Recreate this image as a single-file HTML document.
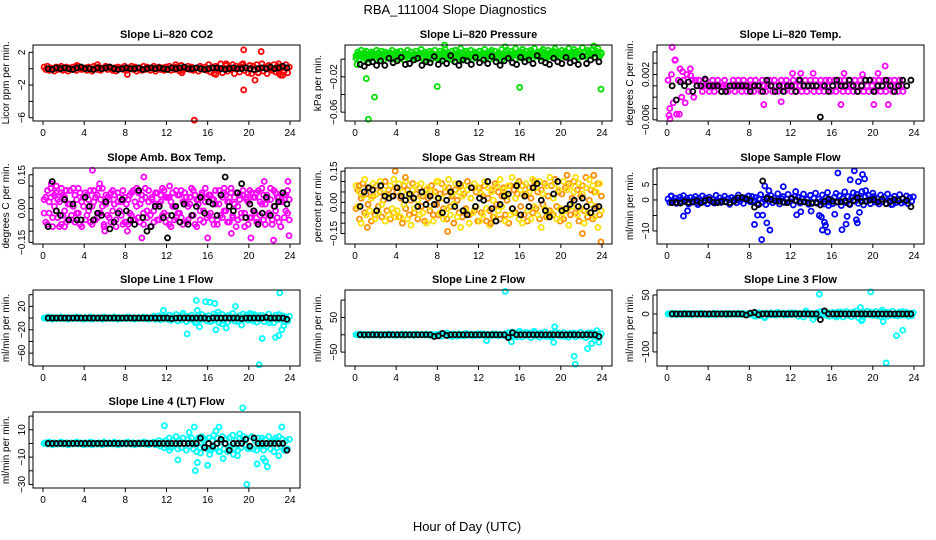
<!DOCTYPE html>
<html><head><meta charset="utf-8">
<style>
html,body{margin:0;padding:0;background:#fff;}
svg{display:block;font-family:"Liberation Sans",Arial,sans-serif;}
</style></head>
<body>
<svg id="chart" width="936" height="540" viewBox="0 0 936 540" xmlns="http://www.w3.org/2000/svg">
<text x="455" y="14" font-size="13" text-anchor="middle">RBA_111004  Slope Diagnostics</text>
<text x="467" y="531" font-size="13" text-anchor="middle">Hour of Day (UTC)</text>
</svg>
<script>
// ---- data: time grids (hours) ----
const baseHourStart = 0.1, baseHourStep = 1/6;
const blackHourStart = 0.5, blackHourStep = 0.4;
const xTicks = [0,4,8,12,16,20,24];

// P1 CO2
const co2Base = [.2,-.1,.3,-.2,.1,0,-.3,.2,-.1,.1,.3,-.2,0,.2,-.3,.1,-.1,.2,0,-.2,.3,.1,-.1,0,
.1,-.2,.2,0,-.3,.3,.1,-.1,.2,-.2,0,.1,.3,-.1,.2,0,-.2,.1,-.3,.2,0,.1,-.1,.3,
-.2,.1,0,.3,-.1,.2,-.3,0,.1,-.2,.3,-.1,.2,0,-.2,.1,.3,-.3,0,.2,-.1,.1,-.2,.2,
0,.3,-.2,.1,-.1,.2,0,-.3,.4,-.2,.1,0,.3,-.1,.2,-.2,0,.1,-.3,.3,.1,-.1,.2,-.2,
.5,-.4,.2,-.6,.3,0,-.2,.6,-.5,.1,.4,-.3,.2,-.1,.5,-.6,.3,0,-.4,.2,.6,-.2,.1,-.5,
.4,-.6,.3,-.2,.5,-.5,.1,.6,-.3,.2,-.6,.4,0,-.2,.5,-.4,.3,-.6,.2,.1,-.3,.5,-.5,.2];
const co2Black = [0,-.1,.1,0,.1,0,-.1,.1,.2,0,0,-.1,.1,0,.1,.2,0,-.1,0,.1,0,0,.1,-.1,0,.1,0,.1,0,-.1,.1,0,.1,.2,0,0,.1,0,-.1,0,.1,.1,0,-.1,0,.1,0,0,.1,0,-.1,0,.1,0,.2,0,.1,.3,.1];
const co2OutX = [14.7,19.5,19.5,21.2,20.6,17.8,22.9,16.8,20.9,23.3,23.1,19.3,8.2,13.5,12.9,5.3,3.3];
const co2OutY = [-6.3,2.3,-2.6,2.1,-1.4,.6,.6,-.7,-.5,-.8,-.8,.5,-.7,-.5,.5,.5,.4];

// P2 Pressure
const presBase = [.004,.008,.006,.01,.003,.007,.009,.005,.002,.008,.006,.004,.01,.007,.003,.009,.005,.008,.006,.002,.007,.01,.004,.006,
.008,.005,.009,.003,.007,.006,.01,.004,.008,.002,.006,.009,.005,.007,.011,.003,.008,.006,.004,.009,.007,.005,.01,.003,
.006,.009,.004,.008,.011,.005,.007,.003,.009,.006,.01,.004,.008,.012,.005,.007,.009,.003,.006,.01,.004,.008,.007,.005,
.009,.004,.007,.011,.006,.003,.008,.01,.005,.009,.002,.007,.006,.011,.004,.008,.01,.005,.003,.009,.007,.012,.006,.004,
.008,.011,.005,.009,.003,.007,.01,.006,.012,.004,.008,.005,.009,.011,.006,.003,.01,.007,.004,.009,.012,.005,.008,.006,
.01,.006,.009,.004,.012,.007,.005,.011,.008,.003,.009,.006,.013,.007,.004,.01,.008,.005,.011,.006,.009,.012,.004,.007];
const presBase2 = [.001,.005,0,.003,.006,.002,-.001,.004,.006,.001,.003,.005,0,.002,.006,.004,-.001,.003,.005,.001,.004,0,.006,.002,
.003,0,.005,.002,-.001,.004,.006,.001,.003,.005,.002,0,.004,.006,.001,.003,-.001,.005,.002,.004,0,.006,.003,.001,
.005,.002,.004,0,.006,.003,.001,.005,-.001,.004,.002,.006,.003,0,.005,.001,.004,.006,.002,.003,0,.005,.004,.001,
.002,.006,.001,.004,.003,.005,0,.006,.002,.004,.001,.005,.003,-.001,.006,.002,.004,.001,.005,.003,.006,0,.004,.002,
.004,.001,.006,.003,.005,.002,.007,.001,.004,.006,.003,.005,.002,.007,.004,.001,.006,.003,.005,.002,.007,.004,.006,.003,
.005,.003,.007,.002,.006,.004,.008,.003,.005,.007,.002,.006,.004,.008,.003,.005,.007,.004,.006,.002,.008,.005,.003,.006];
const presBlack = [-.006,-.008,-.004,-.003,-.007,-.002,-.007,.001,-.004,-.002,.002,-.006,-.005,-.001,.001,-.007,-.003,-.004,.003,-.006,-.002,-.005,.004,-.003,-.007,-.001,-.002,-.006,.002,-.004,-.001,-.005,.003,-.003,-.007,-.002,.001,-.004,-.006,.002,-.003,-.001,-.005,.004,-.002,-.004,-.006,.001,-.003,-.005,.002,-.004,-.002,-.006,.003,-.005,-.001,.002,-.003];
const presOutX = [1.1,1.9,1.3,8,16,23.9,.2,8.7,23.2,14.6];
const presOutY = [-.022,-.043,-.068,-.031,-.032,-.034,-.006,.016,.015,.014];

// P3 Li-820 Temp
const tempBase = [.001,-.004,.002,-.003,.0045,-.005,.001,.003,-.002,.001,-.003,.002,-.001,.003,.001,-.002,.001,0,
.001,0,-.001,0,.001,0,-.001,0,.001,-.001,0,.001,0,-.001,0,.001,0,-.001,0,0,.001,-.001,0,.001,
0,-.001,.001,0,-.001,0,.001,0,-.001,.001,0,0,-.001,.001,0,-.001,0,.001,0,-.001,.001,0,-.001,0,
.001,0,-.001,.001,0,0,-.001,.001,0,-.001,.001,0,-.001,0,.001,-.001,0,.001,0,-.001,.001,0,-.001,.001,
0,-.001,.001,0,.001,-.001,0,.001,-.001,0,.001,0,-.001,.001,0,-.001,.001,0,-.001,.001,0,-.001,.001,0,
-.001,.001,0,-.001,.001,0,.001,-.001,0,.001,-.001,0,.001,-.001,0,.001,0,-.001,.001,0,-.001,.001,0,-.001];
const tempBlack = [0,-.0025,.0007,0,.0007,-.001,0,0,.0012,0,0,0,-.001,-.001,0,0,0,0,0,-.001,0,0,-.001,.001,0,-.001,0,-.001,0,0,-.001,.001,0,0,0,0,-.0055,0,-.001,0,.001,0,0,.001,0,-.001,0,.001,.001,-.001,0,0,.001,0,-.001,0,.001,0,.001];
const tempOutX = [.5,.8,.3,.2,1.2,1.5,2.3,9.4,11.1,16.9,21.2,21.5,20.1,14.2,13,12.2,19,17.2,20.5];
const tempOutY = [.0068,.0046,-.0058,-.0052,-.005,.0025,.0018,-.0033,-.0028,-.0033,.0035,-.0033,-.0033,.0022,.0022,.0022,.002,.0022,.0022];

// P4 Amb box temp
const ambBase = [.04,-.06,.08,-.02,.05,-.08,.01,.07,-.04,.03,-.07,.06,-.01,.08,-.05,.02,-.03,.09,-.06,.04,-.02,.07,-.08,.01,
-.05,.06,-.01,.08,-.07,.03,.05,-.04,.09,-.02,.01,-.08,.06,-.03,.04,-.06,.08,.02,-.05,.07,-.01,.03,-.07,.05,
.02,-.07,.06,-.03,.08,-.05,.01,.07,-.06,.04,-.02,.09,-.04,.03,-.08,.05,-.01,.07,-.05,.02,.06,-.03,.08,-.06,
-.03,.05,-.08,.07,.01,-.04,.06,-.02,.08,-.07,.03,.05,-.05,.02,.09,-.03,.06,-.08,.04,-.01,.07,-.06,.03,.05,
.06,-.02,.04,-.07,.08,-.05,.02,.06,-.04,.09,-.01,.03,-.06,.07,-.03,.05,-.08,.01,.06,-.04,.08,-.02,.04,-.07,
-.04,.07,-.01,.05,-.06,.08,-.03,.02,.06,-.07,.04,-.02,.09,-.05,.01,.07,-.04,.05,-.08,.03,.06,-.01,.08,-.05];
const ambBase2 = [-.02,.05,-.07,.03,.09,-.04,.06,-.01,.04,-.08,.07,-.03,.05,-.06,.02,.08,-.05,.01,.06,-.02,.09,-.07,.03,.05,
.07,-.03,.04,-.06,.01,.08,-.05,.06,-.02,.04,.09,-.07,.02,.05,-.04,.07,-.01,.06,-.08,.03,.05,-.03,.08,-.06,
-.06,.04,-.02,.07,-.05,.03,.09,-.04,.02,.06,-.07,.05,-.01,.08,-.03,.04,-.06,.02,.07,-.05,.03,.09,-.02,.05,
.05,-.07,.03,.01,-.05,.08,-.02,.06,-.04,.03,.07,-.06,.01,.05,-.03,.08,-.07,.04,.02,-.05,.06,-.01,.09,-.04,
-.03,.06,-.05,.04,.02,-.07,.08,-.03,.05,-.01,.06,-.06,.03,.09,-.04,.02,.07,-.05,.04,-.02,.06,-.08,.05,.03,
.08,-.04,.05,-.02,.07,-.06,.03,.09,-.05,.02,.06,-.03,.04,-.07,.08,-.01,.05,-.06,.03,.07,-.04,.06,-.02,.04];
const ambBlack = [-.08,.12,-.01,-.03,.04,-.05,.02,-.05,-.05,.05,.01,-.05,-.02,-.03,.03,-.09,-.06,-.02,.04,-.01,-.05,-.07,.08,-.04,-.1,-.08,.01,.01,-.04,-.13,-.03,.01,-.06,.02,-.07,-.03,.01,.05,-.02,.03,.02,-.03,.06,.14,.01,-.01,.07,.11,-.04,.02,-.01,-.07,-.02,.05,-.03,.01,.03,.07,.02];
const ambOutX = [4.8,9.8,.8,1.3,6,9.6,21.5,23.8,23.9,22.4,20.2,16,18.3,2.1,12.3,17.6,5.5,8.2,1.8];
const ambOutY = [.17,.14,.11,.1,-.1,-.13,.12,.12,-.12,-.14,-.13,-.13,-.11,-.08,.1,.07,.11,-.1,.09];

// P5 Gas stream RH
const rhBase = [-.03,.06,-.08,.02,.09,-.05,.04,-.01,.07,-.09,.03,-.06,.08,-.02,.05,-.07,.01,.1,-.04,.06,-.08,.03,-.05,.07,
.05,-.07,.02,-.1,.08,-.03,.06,-.06,.01,.09,-.05,.04,-.08,.07,-.02,.03,-.09,.06,.02,-.04,.08,-.06,.05,-.01,
-.06,.04,.09,-.03,.05,-.08,.07,-.02,.03,-.1,.06,.01,-.05,.08,-.07,.04,-.03,.1,-.06,.02,.07,-.04,.05,-.09,
.07,-.05,.03,.08,-.09,.02,-.04,.06,-.07,.09,-.01,.05,-.08,.03,.07,-.06,.01,-.1,.08,-.03,.06,-.05,.04,.1,
-.02,.08,-.06,.04,-.09,.07,.02,-.05,.1,-.03,.05,-.08,.06,-.01,.09,-.07,.03,-.04,.08,-.06,.11,-.02,.05,-.09,
.04,-.08,.07,-.03,.09,-.06,.02,.1,-.05,.06,-.09,.03,.08,-.04,.12,-.07,.01,.06,-.08,.05,-.02,.09,-.06,.03];
const rhBase2 = [.08,-.02,.05,-.1,.03,.11,-.06,.07,-.04,.02,.09,-.08,.04,-.05,.1,-.01,.06,-.09,.03,-.06,.08,-.03,.11,-.07,
-.04,.09,-.07,.05,-.01,.1,-.08,.03,-.11,.06,-.03,.08,.01,-.06,.09,-.05,.04,-.1,.07,-.02,.05,-.09,.03,.1,
.1,-.05,.02,-.08,.07,-.03,.11,-.06,.04,-.01,.09,-.07,.05,-.12,.03,.08,-.04,.06,-.1,.02,-.05,.09,-.02,.07,
-.09,.04,-.06,.1,-.03,.07,-.11,.05,.01,-.07,.08,-.04,.11,-.02,.06,-.09,.03,.08,-.06,.12,-.05,.02,.09,-.08,
.06,-.1,.03,.09,-.04,.05,-.08,.11,-.02,.07,-.06,.1,-.12,.04,-.03,.08,-.07,.12,-.05,.02,.09,-.08,.06,-.03,
-.07,.1,-.04,.06,-.11,.08,-.02,.05,.12,-.06,.09,-.03,.04,-.1,.07,-.05,.11,-.01,.08,-.07,.05,-.12,.09,-.04];
const rhBlack = [-.02,.05,.07,.06,-.04,.08,.03,.02,.03,.07,.03,.01,.04,.02,-.02,.05,-.01,.03,-.01,.02,-.05,.01,.05,-.02,.09,-.04,-.06,.07,-.02,.02,.01,.1,-.03,-.09,-.01,.03,.04,-.03,.08,-.06,.03,-.02,.07,.09,.01,-.04,-.07,.04,.1,-.04,-.03,-.01,.01,-.02,.02,-.02,-.05,-.03,-.02];
const rhOutX = [3.9,23.9,.4,4.9,9,13.2,20.6,22.1,23.2,1.2];
const rhOutY = [.15,-.19,.08,.12,-.14,-.1,.13,-.15,.13,-.12];

// P6 Sample flow
const flowBase = [.3,-.8,1.2,-.4,.6,-1.1,.1,.9,-.6,1.4,-.2,.5,-1.3,.8,-.5,.2,1.1,-.9,.4,-.3,1.3,-.7,.6,-1.2,
.9,-.5,.2,-1,1.5,-.3,.7,-.8,.1,1.2,-.6,.4,-1.4,.8,-.2,.5,-.9,1.6,-.4,.3,-1.1,.7,-.1,1.3,
-.6,1.1,-.3,.8,-1.2,.4,1.7,-.7,.2,-1.5,.9,-.4,1.4,-.9,.6,-.2,2,-1.3,.5,1.1,-.8,.3,1.8,-.5,
.7,-1.6,1.2,-.3,.9,-1,.4,1.9,-.6,.2,-1.4,1.5,-.8,.6,2.2,-1.1,.3,-.5,1.6,-1.3,.8,2.4,-.7,.1,
-1.2,.9,2.1,-.6,1.4,-1.8,.5,2.6,-.9,1.1,-1.5,.7,2.3,-.4,1.8,-1.1,.6,2.7,-1.6,1,-.3,1.5,-1.2,.8,
1.1,-.7,.4,-1.3,1.6,-.5,.9,-1.1,1.9,-.3,.6,-1.4,1.2,-.8,.3,1.7,-1,.5,-.6,1.3,-1.2,.8,-.4,1];
const flowBlack = [-.9,-.8,-1,-.5,-.8,-.7,-.3,-.9,-.2,.1,-.7,-.9,-.5,-.6,-.9,-.4,.7,.8,.3,-.2,-2.3,-1.5,6.1,.4,.2,-.3,-.4,-.7,-.9,.4,-.2,-.5,-.6,-.9,-1.1,-.8,-1.6,-.5,.3,-.4,-.7,-.6,-.3,-1.3,-.2,.8,-.5,-.4,-.1,.1,-.6,.3,-1.2,-.5,.1,-.3,.4,-.2,-2.2];
const flowOutX = [9.2,8.8,9.3,9.7,10,8.5,9.5,9.9,11.3,12.5,12.6,13,14,14.8,15,15.1,15.3,15.4,15.6,15.7,16.3,16.6,17,17.4,17.5,17.8,18.2,18.4,18.5,18.7,18.6,19,19.2,19.3,2,1.6,3,.4,21.8,20];
const flowOutY = [-12.8,-4.9,-4.9,-7.4,-9.7,-7.9,4.5,3,4.3,2.7,-4.8,-3.8,-3.6,-5,-5.5,-9.7,-7.2,-8.2,-10.3,-1.8,-4.6,8.7,-9.6,-7.8,-5.3,6.5,9.4,-6.4,-7.4,-4,5.9,8.2,6.8,3,-3.5,-5.2,-1.5,1.3,-1.5,2.2];

// P7 Line 1 flow
const l1Base = [0,1,-1,2,0,-2,1,0,-1,1,2,-1,0,1,-2,0,1,-1,0,2,-1,1,0,-2,
1,-1,0,2,-2,1,0,-1,1,0,-2,2,0,-1,1,0,-1,2,0,-2,1,-1,0,1,
-1,2,0,-1,1,-2,0,1,-1,0,2,-1,1,-2,0,1,3,-2,0,4,-3,1,-1,2,
-2,5,-4,3,-1,6,-5,2,-3,4,0,-6,3,-2,5,-4,1,-7,4,-3,6,-2,3,-5,
4,-6,2,7,-3,5,-8,1,6,-4,3,-7,5,-2,8,-5,2,-6,4,-3,7,-1,5,-4,
-3,6,-5,2,-7,4,-1,5,-6,3,-2,7,-4,1,-8,5,-3,6,-2,4,-6,2,-5,3];
const l1Black = [0,0,0,0,0,0,0,0,0,0,0,0,0,0,0,0,0,0,0,0,0,0,0,0,0,0,0,0,0,0,-1,0,0,0,0,0,0,0,0,-1,0,0,0,0,0,0,0,-1,0,0,0,0,0,1,0,0,0,0,-2];
const l1OutX = [11.7,14.9,14,15.8,16.2,16.7,18.7,15,16.8,17.8,20.1,21.3,21,22.6,22.9,23,23.4,15.2,14.8,17,13.6,16.4,17.4,19,19.3,22,23.2,20.5];
const l1OutY = [13,30,-27,28,27,25,20,13,-20,-17,8,-35,-80,-33,-30,43,-13,-15,-8,10,8,-5,-10,-5,-12,-8,-20,6];

// P8 Line 2 flow
const l2Base = [0,1,-1,2,0,-2,1,0,-1,1,2,-1,0,1,-2,0,1,-1,0,2,-1,1,0,-2,
1,-1,0,2,-2,1,0,-1,1,0,-2,2,0,-1,1,0,-1,2,0,-2,1,-1,0,1,
-1,3,-4,2,-1,5,-3,1,-5,2,0,-4,3,-2,1,-3,4,-1,0,2,-3,1,-2,3,
-2,3,-1,2,-3,1,0,-2,3,-1,2,-3,1,0,-2,3,-4,6,-5,8,-3,5,-6,2,
4,-6,2,7,-3,5,-8,1,6,-4,3,-7,5,-2,8,-5,2,-6,4,-3,7,-1,5,-4,
-3,6,-5,2,-7,4,-1,5,-6,3,-2,7,-4,1,-8,5,-3,6,-2,4,-6,2,-5,3];
const l2Black = [0,0,0,0,0,0,0,0,0,0,0,0,0,0,0,0,0,0,-5,-3,4,-2,0,0,0,0,0,0,0,0,0,0,0,0,0,0,-8,6,0,0,0,0,0,0,0,0,0,0,0,0,0,0,0,0,0,0,0,0,-5];
const l2OutX = [14.6,19.4,19.3,21.3,21.4,22.6,23,23.3,23.5,23.7,15.2,12.8,16,17.4];
const l2OutY = [125,23,-22,-62,-85,-40,-25,-15,12,-22,-20,-17,10,10];

// P9 Line 3 flow
const l3Base = [0,1,-1,2,0,-2,1,0,-1,1,2,-1,0,1,-2,0,1,-1,0,2,-1,1,0,-2,
1,-1,0,2,-2,1,0,-1,1,0,-2,2,0,-1,1,0,-1,2,0,-2,1,-1,0,1,
-1,2,-4,-6,-1,3,-5,1,-7,2,0,-3,3,-2,1,-3,4,-1,0,2,-3,1,-2,3,
-2,3,-1,2,-6,1,0,-8,3,-1,2,-3,1,0,-7,3,-4,6,-2,5,-3,4,-6,2,
4,-6,2,5,-3,5,-8,1,6,-4,3,-7,5,-2,8,-10,2,-6,4,-3,7,-1,5,-4,
-3,6,-5,2,-7,4,-1,5,-6,3,-2,7,-4,1,-5,5,-3,6,-2,4,-6,2,-5,3];
const l3Black = [0,0,0,0,0,0,0,0,0,0,0,0,0,0,0,0,0,0,-3,2,4,-2,0,0,0,0,0,0,0,0,0,0,0,0,0,0,-15,8,0,0,0,0,0,0,0,0,0,0,0,0,0,0,0,0,0,0,0,0,0];
const l3OutX = [14.8,19.8,18.8,20.9,21,22.3,22.9,21.3,16.5,9.5,8.5,13.5,18.9,14.2,19];
const l3OutY = [52,58,17,10,-20,-57,-43,-129,-8,-10,-5,8,-18,-14,-15];

// P10 Line 4 (LT) flow
const l4Base = [0,.5,-.5,1,0,-1,.5,0,-.5,.5,1,-.5,0,.5,-1,0,.5,-.5,0,1,-.5,.5,0,-1,
.5,-.5,0,1,-1,.5,0,-.5,.5,0,-1,1,0,-.5,.5,0,-.5,1,0,-1,.5,-.5,0,.5,
-.5,1,0,-.5,.5,-1,0,.5,-.5,0,1,-.5,.5,-1,0,.5,1,-1,0,2,-2,1,-3,2,
-2,4,-3,2,-1,5,-4,2,-3,4,0,-5,3,-2,4,-4,1,-6,4,-3,5,-2,3,-4,
4,-5,2,6,-3,4,-6,1,5,-4,3,-6,4,-2,6,-4,2,-5,4,-3,5,-1,4,-4,
-3,5,-4,2,-5,4,-1,4,-5,3,-2,5,-4,1,-6,4,-3,5,-2,3,-5,2,-4,3];
const l4Black = [0,0,0,0,0,0,0,0,0,0,0,0,0,0,0,0,0,0,0,0,0,0,0,0,0,0,0,0,0,0,0,0,0,0,0,0,0,4,-3,0,-2,0,3,0,-5,0,0,0,3,-2,4,0,0,0,0,0,0,0,-5];
const l4OutX = [11.8,12.3,13.1,14.2,14.7,15,14.8,16,16.2,16.8,17.1,17.5,18.2,18.5,19.1,19.4,19.8,20.8,21.4,21.6,21.8,22.9,23.2,23.6,16.5,15.5,17.8,18.9,15.3,17.2,21.2,22.5];
const l4OutY = [13,-5,-12,8,12,-14,-20,-16,-8,9,12,-11,-4,-8,7,26,-30,-15,-11,-13,-17,-9,12,-5,-4,3,3,-9,-7,-6,-2,2];

// ---- tick arrays ----
const co2Ticks=[2,0,-2,-4,-6], co2Labels=["2","","−2","","−6"];
const presTicks=[0,-.02,-.04,-.06], presLabels=["","−0.02","","−0.06"];
const tempTicks=[.006,.004,.002,0,-.002,-.004,-.006], tempLabels=["","","0.002","","","","−0.006"];
const ambTicks=[.15,.1,.05,0,-.05,-.1,-.15], ambLabels=["0.15","","","0.00","","","−0.15"];
const rhTicks=[.15,.1,.05,0,-.05,-.1,-.15], rhLabels=["0.15","","","0.00","","","−0.15"];
const flowTicks=[10,5,0,-5,-10], flowLabels=["","5","0","","−10"];
const l1Ticks=[40,20,0,-20,-40,-60,-80], l1Labels=["","20","","−20","","−60",""];
const l2Ticks=[100,50,0,-50], l2Labels=["","50","","−50"];
const l3Ticks=[50,0,-50,-100], l3Labels=["50","0","","−100"];
const l4Ticks=[20,10,0,-10,-20,-30], l4Labels=["","10","","−10","","−30"];

// ---- layout/config ----
const panelSpecs = [
 {name:"co2",title:"Slope Li–820 CO2",ylab:"Licor ppm per min.",col:0,row:0,ylim:[-6.4,2.9],color:"#ff0000",base:[co2Base],black:co2Black,ox:co2OutX,oy:co2OutY,ticks:co2Ticks,labels:co2Labels},
 {name:"pressure",title:"Slope Li–820 Pressure",ylab:"kPa per min.",col:1,row:0,ylim:[-.070,.016],color:"#00e000",base:[presBase,presBase2],black:presBlack,ox:presOutX,oy:presOutY,ticks:presTicks,labels:presLabels},
 {name:"li820-temp",title:"Slope Li–820 Temp.",ylab:"degrees C per min.",col:2,row:0,ylim:[-.0062,.0072],color:"#ff00ff",base:[tempBase],black:tempBlack,ox:tempOutX,oy:tempOutY,ticks:tempTicks,labels:tempLabels},
 {name:"amb-box-temp",title:"Slope Amb. Box Temp.",ylab:"degrees C per min.",col:0,row:1,ylim:[-.157,.18],color:"#ff00ff",base:[ambBase,ambBase2],black:ambBlack,ox:ambOutX,oy:ambOutY,ticks:ambTicks,labels:ambLabels},
 {name:"gas-stream-rh",title:"Slope Gas Stream RH",ylab:"percent per min.",col:1,row:1,ylim:[-.20,.165],color:"#ff8c00",color2:"#ffe000",base:[rhBase,rhBase2],black:rhBlack,ox:rhOutX,oy:rhOutY,ticks:rhTicks,labels:rhLabels},
 {name:"sample-flow",title:"Slope Sample Flow",ylab:"ml/min per min.",col:2,row:1,ylim:[-14.2,10.3],color:"#0000ff",base:[flowBase],black:flowBlack,ox:flowOutX,oy:flowOutY,ticks:flowTicks,labels:flowLabels},
 {name:"line1-flow",title:"Slope Line 1 Flow",ylab:"ml/min per min.",col:0,row:2,ylim:[-82,48],color:"#00ffff",base:[l1Base],black:l1Black,ox:l1OutX,oy:l1OutY,ticks:l1Ticks,labels:l1Labels},
 {name:"line2-flow",title:"Slope Line 2 Flow",ylab:"ml/min per min.",col:1,row:2,ylim:[-90,129],color:"#00ffff",base:[l2Base],black:l2Black,ox:l2OutX,oy:l2OutY,ticks:l2Ticks,labels:l2Labels},
 {name:"line3-flow",title:"Slope Line 3 Flow",ylab:"ml/min per min.",col:2,row:2,ylim:[-137,63],color:"#00ffff",base:[l3Base],black:l3Black,ox:l3OutX,oy:l3OutY,ticks:l3Ticks,labels:l3Labels},
 {name:"line4-flow",title:"Slope Line 4 (LT) Flow",ylab:"ml/min per min.",col:0,row:3,ylim:[-32.6,23],color:"#00ffff",base:[l4Base],black:l4Black,ox:l4OutX,oy:l4OutY,ticks:l4Ticks,labels:l4Labels}
];
const colLeft=[33,345,657], rowTop=[45,168,290,412], boxW=267, boxH=76;
const NS="http://www.w3.org/2000/svg";
const svg=document.getElementById("chart");
function mk(tag,attrs,parent){const e=document.createElementNS(NS,tag);for(const k in attrs)e.setAttribute(k,attrs[k]);(parent||svg).appendChild(e);return e;}

panelSpecs.forEach(p=>{
  const L=colLeft[p.col], T=rowTop[p.row];
  const g=mk("g",{});
  
  
  const xS=h=>L+10+h*(247/24);
  const yS=v=>T+boxH-(v-p.ylim[0])/(p.ylim[1]-p.ylim[0])*boxH;
  const t=mk("text",{x:L+boxW/2,y:T-7,"font-size":"11","font-weight":"bold","text-anchor":"middle"},g);
  t.textContent=p.title;
  
  
  const yl=mk("text",{x:0,y:0,"font-size":"10","text-anchor":"middle",transform:`translate(${L-24},${T+boxH/2}) rotate(-90)`},g);
  yl.textContent=p.ylab;
  
  
  const pts=mk("g",{fill:"none","stroke-width":"1.8"},g);
  
  
  p.base.forEach((arr,si)=>{
    const col=(si===1&&p.color2)?p.color2:p.color;
    arr.forEach((v,i)=>{
      const c=mk("circle",{cx:xS(baseHourStart+i*baseHourStep),cy:yS(v),r:2.5,stroke:col},pts);
      
      
    });
  });
  p.ox.forEach((h,i)=>{
    const c=mk("circle",{cx:xS(h),cy:yS(p.oy[i]),r:2.5,stroke:p.color},pts);
    
    
  });
  p.black.forEach((v,i)=>{
    const c=mk("circle",{cx:xS(blackHourStart+i*blackHourStep),cy:yS(v),r:2.5,stroke:"#000"},pts);
    
    
  });
  const b=mk("rect",{x:L,y:T,width:boxW,height:boxH,fill:"none",stroke:"#000","stroke-width":"1"},g);
  
  
  const xa=mk("g",{"font-size":"10","text-anchor":"middle"},g);
  
  
  xTicks.forEach(h=>{
    mk("line",{x1:xS(h),x2:xS(h),y1:T+boxH,y2:T+boxH+4,stroke:"#000"},xa);
    const tl=mk("text",{x:xS(h),y:T+boxH+15},xa);
    tl.textContent=h;
    
    
  });
  const ya=mk("g",{"font-size":"10","text-anchor":"middle"},g);
  
  
  mk("line",{x1:L-4,x2:L-4,y1:yS(p.ticks[0]),y2:yS(p.ticks[p.ticks.length-1]),stroke:"#000"},ya);
  p.ticks.forEach((v,i)=>{
    mk("line",{x1:L-4,x2:L,y1:yS(v),y2:yS(v),stroke:"#000"},ya);
    if(p.labels[i]){
      const tl=mk("text",{x:0,y:0,transform:`translate(${L-8},${yS(v)}) rotate(-90)`},ya);
      tl.textContent=p.labels[i];
      
      
    }
  });
});
</script>
</body></html>
